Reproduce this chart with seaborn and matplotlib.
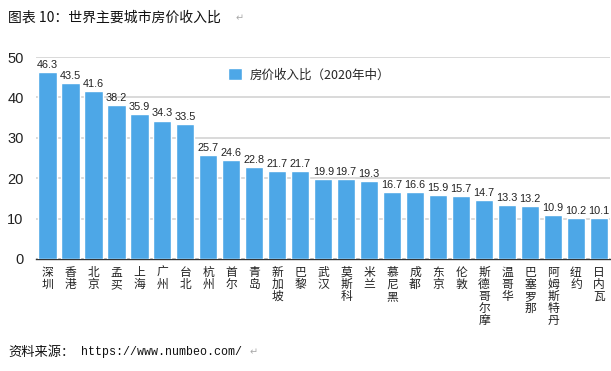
import matplotlib
matplotlib.use("Agg")
import matplotlib.pyplot as plt
import seaborn as sns
import pandas as pd

# ---------------------
# Data
# ---------------------
cities = ['深圳', '香港', '北京', '孟买', '上海', '广州', '台北', '杭州', '首尔', '青岛',
          '新加坡', '巴黎', '武汉', '莫斯科', '米兰', '慕尼黑', '成都', '东京', '伦敦',
          '斯德哥尔摩', '温哥华', '巴塞罗那', '阿姆斯特丹', '纽约', '日内瓦']
ratios = [46.3, 43.5, 41.6, 38.2, 35.9, 34.3, 33.5, 25.7, 24.6, 22.8,
          21.7, 21.7, 19.9, 19.7, 19.3, 16.7, 16.6, 15.9, 15.7,
          14.7, 13.3, 13.2, 10.9, 10.2, 10.1]
yticks = [0, 10, 20, 30, 40, 50]
series_name = '房价收入比（2020年中）'

df = pd.DataFrame({'city': cities, 'ratio': ratios})

sns.set_style('white')
plt.rcParams['font.family'] = ['Liberation Sans', 'Noto Sans CJK SC', 'DejaVu Sans']
cjk = ['Noto Sans CJK SC', 'DejaVu Sans']

bar_color = '#4DA7E7'

fig = plt.figure(figsize=(6.11, 3.71), dpi=100)
ax = fig.add_axes([0.059, 0.302, 0.94, 0.544])

sns.barplot(data=df, x='city', y='ratio', color=bar_color, width=0.79,
            saturation=1, ax=ax, label=series_name, zorder=3)

# value labels
for i, v in enumerate(ratios):
    ax.text(i, v + 0.5, f'{v:.1f}', ha='center', va='bottom', fontsize=7.8,
            color='#222222', zorder=4)

ax.set_ylim(0, 50)
ax.set_xlim(-0.5, len(cities) - 0.5)
ax.set_yticks(yticks)
ax.set_yticklabels([str(t) for t in yticks], fontsize=10.5, color='#222222')
ax.yaxis.grid(True, color='#d9d9d9', linewidth=1.4, zorder=0)
ax.set_xlabel('')
ax.set_ylabel('')

# vertical stacked city labels
ax.set_xticks(range(len(cities)))
ax.set_xticklabels(['\n'.join(c) for c in cities], va='top', fontsize=8.5,
                   family=cjk, linespacing=0.9, color='#222222')
ax.tick_params(axis='x', length=0, pad=5)
ax.tick_params(axis='y', length=0, pad=9)

for side in ['left', 'right', 'top']:
    ax.spines[side].set_visible(False)
ax.spines['bottom'].set_color('#333333')
ax.spines['bottom'].set_linewidth(1.0)

ax.legend(loc='upper left', bbox_to_anchor=(0.315, 1.0), frameon=False,
          prop={'family': cjk, 'size': 9},
          handlelength=1.1, handleheight=1.1, handletextpad=0.6)

# title and source
fig.text(0.013, 0.952, '图表 10：世界主要城市房价收入比', fontsize=10,
         family=cjk, va='center', color='#111111')
fig.text(0.385, 0.952, '↵', fontsize=7, color='#aaaaaa', va='center')
fig.text(0.013, 0.05, '资料来源：', fontsize=9.5, family=cjk, va='center',
         color='#111111')
fig.text(0.132, 0.05, 'https://www.numbeo.com/', fontsize=8.4,
         family='Liberation Mono', va='center', color='#111111')
fig.text(0.408, 0.05, '↵', fontsize=7, color='#aaaaaa', va='center')

fig.savefig('out.png', dpi=100)
